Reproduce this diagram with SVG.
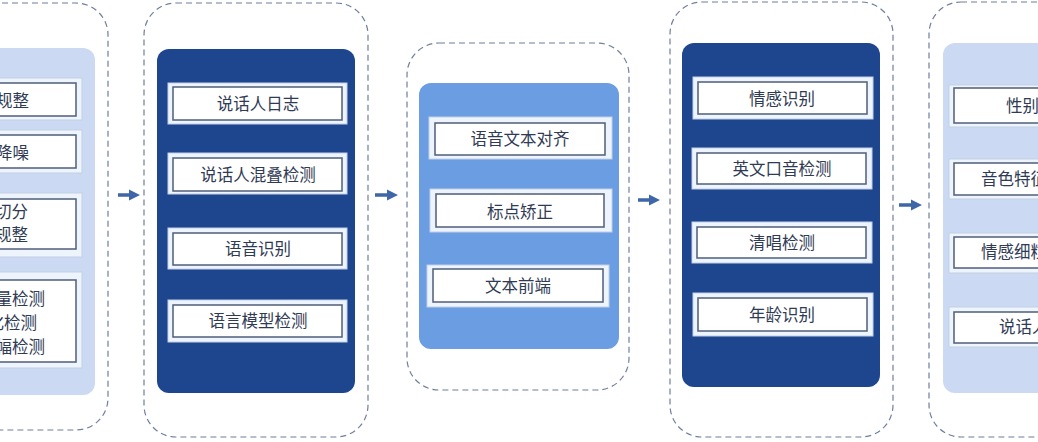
<svg xmlns="http://www.w3.org/2000/svg" width="1038" height="442" viewBox="0 0 1038 442">
<defs>
<style>
.dash{fill:#ffffff;stroke:#6f7f9e;stroke-width:1.2;stroke-dasharray:6 4}
.pd{fill:#1d468f}
.pm{fill:#6b9de3}
.pl{fill:#cbdaf2}
.bo{fill:#eef4fc;stroke:#c3cfe3;stroke-width:1}
.bi{fill:#ffffff;stroke:#4f5d7a;stroke-width:1.5}
.t{font-family:"Noto Sans CJK SC","Noto Sans",sans-serif;font-size:16.5px;fill:#2f3a55;dominant-baseline:central}
.c{text-anchor:middle}
.e{text-anchor:end}
.arr{fill:#3f66a8}
</style>
</defs>
<rect width="1038" height="442" fill="#ffffff"/>

<g id="col1">
<rect class="dash" x="-130" y="3" width="238" height="427" rx="32"/>
<rect class="pl" x="-110" y="48" width="205" height="347" rx="12"/>
<rect class="bo" x="-100" y="78" width="182" height="42"/>
<rect class="bi" x="-95" y="83" width="171" height="33"/>
<text class="t e" x="29" y="100">规整</text>
<rect class="bo" x="-100" y="130" width="182" height="43"/>
<rect class="bi" x="-95" y="135" width="171" height="33"/>
<text class="t e" x="29" y="152">降噪</text>
<rect class="bo" x="-100" y="193" width="182" height="64"/>
<rect class="bi" x="-95" y="199" width="171" height="50"/>
<text class="t e" x="28" y="211">切分</text>
<text class="t e" x="28" y="234">规整</text>
<rect class="bo" x="-100" y="272" width="182" height="96"/>
<rect class="bi" x="-95" y="280" width="171" height="82"/>
<text class="t e" x="45" y="298">量检测</text>
<text class="t e" x="37" y="322">化检测</text>
<text class="t e" x="45" y="346">幅检测</text>
</g>

<g id="col2">
<rect class="dash" x="144" y="3" width="224" height="434" rx="32"/>
<rect class="pd" x="157" y="49" width="198" height="344" rx="12"/>
<rect class="bo" x="168" y="83" width="179" height="41"/>
<rect class="bi" x="173" y="87" width="169" height="33"/>
<text class="t c" x="258" y="103">说话人日志</text>
<rect class="bo" x="168" y="153" width="179" height="41"/>
<rect class="bi" x="173" y="158" width="169" height="33"/>
<text class="t c" x="258" y="174">说话人混叠检测</text>
<rect class="bo" x="168" y="228" width="179" height="41"/>
<rect class="bi" x="173" y="233" width="169" height="32"/>
<text class="t c" x="258" y="248">语音识别</text>
<rect class="bo" x="168" y="300" width="179" height="42"/>
<rect class="bi" x="173" y="305" width="169" height="32"/>
<text class="t c" x="258" y="320">语言模型检测</text>
</g>

<g id="col3">
<rect class="dash" x="407" y="43" width="222" height="347" rx="32"/>
<rect class="pm" x="419" y="83" width="200" height="266" rx="12"/>
<rect class="bo" x="429" y="117" width="183" height="42"/>
<rect class="bi" x="435" y="123" width="170" height="32"/>
<text class="t c" x="520" y="138">语音文本对齐</text>
<rect class="bo" x="430" y="189" width="182" height="43"/>
<rect class="bi" x="436" y="194" width="168" height="33"/>
<text class="t c" x="520" y="211">标点矫正</text>
<rect class="bo" x="427" y="265" width="182" height="42"/>
<rect class="bi" x="433" y="269" width="170" height="33"/>
<text class="t c" x="518" y="285">文本前端</text>
</g>

<g id="col4">
<rect class="dash" x="670" y="2" width="223" height="435" rx="32"/>
<rect class="pd" x="682" y="43" width="198" height="344" rx="12"/>
<rect class="bo" x="693" y="77" width="180" height="42"/>
<rect class="bi" x="698" y="82" width="169" height="32"/>
<text class="t c" x="782" y="98">情感识别</text>
<rect class="bo" x="692" y="148" width="180" height="41"/>
<rect class="bi" x="697" y="153" width="169" height="31"/>
<text class="t c" x="782" y="168">英文口音检测</text>
<rect class="bo" x="692" y="222" width="180" height="41"/>
<rect class="bi" x="697" y="227" width="169" height="31"/>
<text class="t c" x="782" y="242">清唱检测</text>
<rect class="bo" x="693" y="293" width="180" height="43"/>
<rect class="bi" x="698" y="298" width="169" height="33"/>
<text class="t c" x="782" y="314">年龄识别</text>
</g>

<g id="col5">
<rect class="dash" x="929" y="2" width="240" height="435" rx="32"/>
<rect class="pl" x="943" y="43" width="210" height="350" rx="12"/>
<rect class="bo" x="949" y="85" width="182" height="42"/>
<rect class="bi" x="954" y="88" width="171" height="35"/>
<text class="t" x="1006" y="105">性别</text>
<rect class="bo" x="949" y="159" width="182" height="40"/>
<rect class="bi" x="954" y="163" width="171" height="32"/>
<text class="t" x="981" y="178">音色特征</text>
<rect class="bo" x="949" y="233" width="182" height="40"/>
<rect class="bi" x="954" y="237" width="171" height="31"/>
<text class="t" x="981" y="251">情感细粒</text>
<rect class="bo" x="949" y="307" width="182" height="40"/>
<rect class="bi" x="954" y="312" width="171" height="31"/>
<text class="t" x="999" y="326">说话人</text>
</g>

<g id="connectors">
<path class="arr" d="M118 193.2 H129 V189.5 L140 195 L129 200.5 V196.8 H118 Z"/>
<path class="arr" d="M375 193.2 H387 V189.5 L398 195 L387 200.5 V196.8 H375 Z"/>
<path class="arr" d="M638 198.2 H649 V194.5 L660 200 L649 205.5 V201.8 H638 Z"/>
<path class="arr" d="M899 203.2 H911 V199.5 L922 205 L911 210.5 V206.8 H899 Z"/>
</g>
</svg>
